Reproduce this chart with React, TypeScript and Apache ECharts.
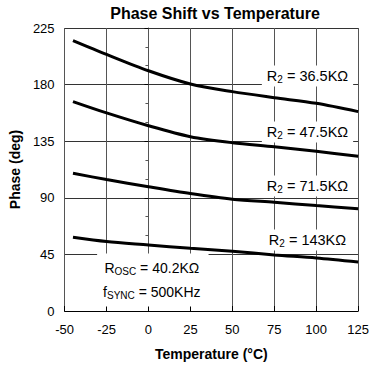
import React, { useEffect, useRef } from "react";
import * as echarts from "echarts";

const temps = [-45, -25, 0, 25, 50, 75, 100, 125];
const r365 = [215, 204, 191, 180.5, 174.4, 169.6, 165.1, 158.5];
const r475 = [166.5, 157.5, 147.3, 138.6, 133.8, 130.6, 127, 123];
const r715 = [109.5, 104.5, 98.8, 93.4, 88.9, 86.4, 83.8, 81.3];
const r143 = [58.6, 55.2, 52.5, 49.8, 47.5, 44.6, 42.2, 39];
const seriesNames = ["36.5K", "47.5K", "71.5K", "143K"];
const seriesValues = [r365, r475, r715, r143];
const curveLabels = ["36.5KΩ", "47.5KΩ", "71.5KΩ", "143KΩ"];
const labelAt = [
  [94.8, 186.8],
  [94.8, 142.3],
  [94.8, 99.4],
  [94.8, 56.4],
];
const noteAt = [2.6, 24.6];
const noteLines = ["{n|R}{s|OSC}{n| = 40.2KΩ}", "{n|f}{s|SYNC}{n| = 500KHz}"];

const FONT = "'Liberation Sans', Arial, sans-serif";

const rich = {
  n: { fontSize: 14.5, fontFamily: FONT, color: "#000", lineHeight: 17 },
  s: { fontSize: 10, fontFamily: FONT, color: "#000", lineHeight: 17, padding: [7, 0, 0, 0] },
};

export default function App() {
  const ref = useRef<HTMLDivElement>(null);
  useEffect(() => {
    if (!ref.current) return;
    const chart = echarts.init(ref.current, null, { renderer: "svg" });
    const series: any[] = seriesValues.map((vals, i) => ({
      name: seriesNames[i],
      type: "line",
      data: temps.map((t, j) => [t, vals[j]]),
      smooth: 0.3,
      symbol: "none",
      lineStyle: { color: "#000", width: 3 },
      z: 3,
      markPoint: {
        symbol: "rect",
        symbolSize: 0,
        z: 5,
        data: [
          {
            coord: labelAt[i],
            label: {
              show: true,
              position: "inside",
              formatter: "{n|R}{s|2}{n| = " + curveLabels[i] + "}",
              backgroundColor: "#fff",
              padding: [2, 5, 2, 5],
              rich,
            },
          },
        ],
      },
    }));
    series.push({
      type: "scatter",
      data: [],
      markPoint: {
        symbol: "rect",
        symbolSize: 0,
        z: 5,
        data: [
          {
            coord: noteAt,
            label: {
              show: true,
              position: "inside",
              formatter: noteLines.join("\n"),
              backgroundColor: "#fff",
              padding: [3, 8, 3, 6],
              align: "center",
              rich: {
                n: { ...rich.n, fontSize: 14, lineHeight: 23.5 },
                s: { ...rich.s, lineHeight: 23.5, padding: [7, 0, 0, 0] },
              },
            },
          },
        ],
      },
    });
    chart.setOption({
      animation: false,
      title: {
        text: "Phase Shift vs Temperature",
        left: 210,
        textAlign: "center",
        top: 0,
        textStyle: { fontFamily: FONT, fontSize: 16, fontWeight: "bold", color: "#000" },
      },
      grid: { left: 63, right: 13, top: 28, bottom: 57 },
      xAxis: {
        type: "value",
        min: -50,
        max: 125,
        interval: 25,
        name: "Temperature (°C)",
        nameLocation: "middle",
        nameGap: 36,
        nameTextStyle: { fontFamily: FONT, fontSize: 14, fontWeight: "bold", color: "#000" },
        axisLine: { show: true, lineStyle: { color: "#000", width: 1 } },
        axisTick: { show: true, inside: true, length: 5, lineStyle: { color: "#000" } },
        axisLabel: { fontFamily: FONT, fontSize: 13, color: "#000", margin: 12 },
        splitLine: { show: true, lineStyle: { color: "#555", width: 1 } },
      },
      yAxis: {
        type: "value",
        min: 0,
        max: 225,
        interval: 45,
        name: "Phase (deg)",
        nameLocation: "middle",
        nameGap: 41,
        nameTextStyle: { fontFamily: FONT, fontSize: 14, fontWeight: "bold", color: "#000" },
        axisLine: { show: true, lineStyle: { color: "#555", width: 1 } },
        axisTick: { show: true, length: 4, lineStyle: { color: "#000" } },
        minorTick: { show: true, splitNumber: 3, length: 3, lineStyle: { color: "#555" } },
        axisLabel: { fontFamily: FONT, fontSize: 13, color: "#000", margin: 10 },
        splitLine: { show: true, lineStyle: { color: "#333", width: 1 } },
      },
      series,
    });
    return () => chart.dispose();
  }, []);
  return <div ref={ref} style={{ width: 372, height: 368, position: "absolute", left: 0, top: 0, background: "#fff" }} />;
}
